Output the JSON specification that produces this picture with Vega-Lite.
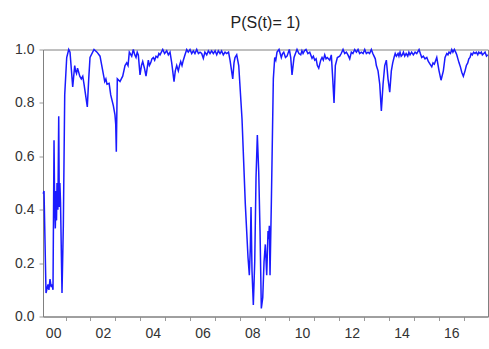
{
  "$schema": "https://vega.github.io/schema/vega-lite/v6.json",
  "width": 445,
  "height": 267,
  "autosize": "none",
  "padding": {"left": 43, "top": 49.5, "right": 1, "bottom": 32.5},
  "background": "white",
  "title": {"text": "P(S(t)= 1)", "font": "Liberation Sans", "fontSize": 16, "fontWeight": "normal", "color": "#222222", "anchor": "middle", "offset": 12},
  "config": {
    "view": {"stroke": "#808080", "strokeWidth": 1},
    "axis": {"grid": false, "domainColor": "#808080", "tickColor": "#9a9a9a", "tickSize": 4, "labelFont": "Liberation Sans", "labelFontSize": 14, "labelColor": "#333333", "labelFlush": false, "labelOverlap": false, "title": null}
  },
  "data": {"values": [
    {"t": 2000.10, "p": 0.46},
    {"t": 2000.133, "p": 0.47},
    {"t": 2000.213, "p": 0.088},
    {"t": 2000.293, "p": 0.12},
    {"t": 2000.33, "p": 0.10},
    {"t": 2000.374, "p": 0.14},
    {"t": 2000.42, "p": 0.11},
    {"t": 2000.454, "p": 0.12},
    {"t": 2000.494, "p": 0.10},
    {"t": 2000.535, "p": 0.66},
    {"t": 2000.56, "p": 0.42},
    {"t": 2000.587, "p": 0.33},
    {"t": 2000.615, "p": 0.47},
    {"t": 2000.635, "p": 0.36},
    {"t": 2000.655, "p": 0.50},
    {"t": 2000.69, "p": 0.40},
    {"t": 2000.724, "p": 0.75},
    {"t": 2000.748, "p": 0.41},
    {"t": 2000.77, "p": 0.50},
    {"t": 2000.796, "p": 0.43},
    {"t": 2000.856, "p": 0.088},
    {"t": 2000.909, "p": 0.34},
    {"t": 2000.965, "p": 0.83},
    {"t": 2001.045, "p": 0.97},
    {"t": 2001.126, "p": 1.0},
    {"t": 2001.178, "p": 0.99},
    {"t": 2001.286, "p": 0.86},
    {"t": 2001.367, "p": 0.94},
    {"t": 2001.40, "p": 0.92},
    {"t": 2001.439, "p": 0.91},
    {"t": 2001.48, "p": 0.93},
    {"t": 2001.512, "p": 0.92},
    {"t": 2001.57, "p": 0.90},
    {"t": 2001.632, "p": 0.89},
    {"t": 2001.69, "p": 0.90},
    {"t": 2001.741, "p": 0.87},
    {"t": 2001.873, "p": 0.785},
    {"t": 2001.930, "p": 0.89},
    {"t": 2001.982, "p": 0.97},
    {"t": 2002.143, "p": 1.0},
    {"t": 2002.263, "p": 0.99},
    {"t": 2002.384, "p": 0.975},
    {"t": 2002.573, "p": 0.88},
    {"t": 2002.62, "p": 0.89},
    {"t": 2002.665, "p": 0.87},
    {"t": 2002.750, "p": 0.873},
    {"t": 2002.814, "p": 0.83},
    {"t": 2002.919, "p": 0.79},
    {"t": 2002.985, "p": 0.755},
    {"t": 2003.015, "p": 0.72},
    {"t": 2003.039, "p": 0.617},
    {"t": 2003.079, "p": 0.89},
    {"t": 2003.188, "p": 0.88},
    {"t": 2003.24, "p": 0.89},
    {"t": 2003.296, "p": 0.90},
    {"t": 2003.389, "p": 0.94},
    {"t": 2003.457, "p": 0.95},
    {"t": 2003.51, "p": 0.94},
    {"t": 2003.562, "p": 0.99},
    {"t": 2003.658, "p": 0.975},
    {"t": 2003.723, "p": 1.0},
    {"t": 2003.78, "p": 0.98},
    {"t": 2003.831, "p": 0.97},
    {"t": 2003.88, "p": 0.99},
    {"t": 2003.924, "p": 0.98},
    {"t": 2003.992, "p": 0.905},
    {"t": 2004.05, "p": 0.94},
    {"t": 2004.100, "p": 0.955},
    {"t": 2004.17, "p": 0.93},
    {"t": 2004.233, "p": 0.90},
    {"t": 2004.326, "p": 0.96},
    {"t": 2004.37, "p": 0.94},
    {"t": 2004.422, "p": 0.95},
    {"t": 2004.47, "p": 0.965},
    {"t": 2004.527, "p": 0.97},
    {"t": 2004.58, "p": 0.96},
    {"t": 2004.635, "p": 0.975},
    {"t": 2004.70, "p": 0.97},
    {"t": 2004.75, "p": 0.985},
    {"t": 2004.796, "p": 0.98},
    {"t": 2004.85, "p": 0.99},
    {"t": 2004.905, "p": 1.0},
    {"t": 2004.98, "p": 0.985},
    {"t": 2005.065, "p": 0.995},
    {"t": 2005.13, "p": 0.98},
    {"t": 2005.198, "p": 0.99},
    {"t": 2005.266, "p": 0.95},
    {"t": 2005.359, "p": 0.88},
    {"t": 2005.41, "p": 0.92},
    {"t": 2005.467, "p": 0.94},
    {"t": 2005.532, "p": 0.92},
    {"t": 2005.58, "p": 0.94},
    {"t": 2005.628, "p": 0.955},
    {"t": 2005.68, "p": 0.94},
    {"t": 2005.733, "p": 0.96},
    {"t": 2005.80, "p": 0.98},
    {"t": 2005.869, "p": 1.0},
    {"t": 2005.93, "p": 0.99},
    {"t": 2006.002, "p": 1.0},
    {"t": 2006.07, "p": 0.985},
    {"t": 2006.135, "p": 0.995},
    {"t": 2006.20, "p": 0.985},
    {"t": 2006.271, "p": 1.0},
    {"t": 2006.34, "p": 0.985},
    {"t": 2006.404, "p": 0.99},
    {"t": 2006.47, "p": 0.985},
    {"t": 2006.537, "p": 0.967},
    {"t": 2006.60, "p": 0.99},
    {"t": 2006.673, "p": 0.98},
    {"t": 2006.74, "p": 0.995},
    {"t": 2006.806, "p": 0.985},
    {"t": 2006.87, "p": 0.995},
    {"t": 2006.939, "p": 0.985},
    {"t": 2007.01, "p": 0.995},
    {"t": 2007.075, "p": 0.98},
    {"t": 2007.14, "p": 0.995},
    {"t": 2007.208, "p": 0.985},
    {"t": 2007.27, "p": 0.995},
    {"t": 2007.341, "p": 0.98},
    {"t": 2007.41, "p": 0.99},
    {"t": 2007.477, "p": 0.985},
    {"t": 2007.55, "p": 0.99},
    {"t": 2007.610, "p": 0.96},
    {"t": 2007.719, "p": 0.89},
    {"t": 2007.77, "p": 0.95},
    {"t": 2007.811, "p": 0.97},
    {"t": 2007.879, "p": 0.98},
    {"t": 2007.960, "p": 0.94},
    {"t": 2008.092, "p": 0.74},
    {"t": 2008.225, "p": 0.42},
    {"t": 2008.334, "p": 0.22},
    {"t": 2008.386, "p": 0.155},
    {"t": 2008.426, "p": 0.256},
    {"t": 2008.454, "p": 0.41},
    {"t": 2008.494, "p": 0.17},
    {"t": 2008.547, "p": 0.043},
    {"t": 2008.603, "p": 0.205},
    {"t": 2008.655, "p": 0.52},
    {"t": 2008.708, "p": 0.68},
    {"t": 2008.764, "p": 0.54},
    {"t": 2008.816, "p": 0.32},
    {"t": 2008.868, "p": 0.03},
    {"t": 2008.925, "p": 0.07},
    {"t": 2008.977, "p": 0.205},
    {"t": 2009.029, "p": 0.27},
    {"t": 2009.085, "p": 0.155},
    {"t": 2009.138, "p": 0.32},
    {"t": 2009.165, "p": 0.29},
    {"t": 2009.190, "p": 0.34},
    {"t": 2009.218, "p": 0.155},
    {"t": 2009.270, "p": 0.42},
    {"t": 2009.351, "p": 0.89},
    {"t": 2009.407, "p": 0.97},
    {"t": 2009.45, "p": 0.96},
    {"t": 2009.499, "p": 0.99},
    {"t": 2009.580, "p": 1.0},
    {"t": 2009.672, "p": 0.97},
    {"t": 2009.72, "p": 0.985},
    {"t": 2009.769, "p": 0.99},
    {"t": 2009.84, "p": 0.97},
    {"t": 2009.902, "p": 0.975},
    {"t": 2009.994, "p": 1.0},
    {"t": 2010.05, "p": 0.97},
    {"t": 2010.102, "p": 0.905},
    {"t": 2010.183, "p": 0.97},
    {"t": 2010.24, "p": 0.985},
    {"t": 2010.303, "p": 1.0},
    {"t": 2010.38, "p": 0.985},
    {"t": 2010.452, "p": 0.98},
    {"t": 2010.50, "p": 0.995},
    {"t": 2010.545, "p": 0.985},
    {"t": 2010.60, "p": 0.995},
    {"t": 2010.665, "p": 1.0},
    {"t": 2010.74, "p": 0.985},
    {"t": 2010.814, "p": 0.99},
    {"t": 2010.907, "p": 0.967},
    {"t": 2010.96, "p": 0.975},
    {"t": 2011.015, "p": 0.96},
    {"t": 2011.07, "p": 0.965},
    {"t": 2011.120, "p": 0.94},
    {"t": 2011.176, "p": 0.93},
    {"t": 2011.256, "p": 0.96},
    {"t": 2011.308, "p": 0.97},
    {"t": 2011.36, "p": 0.96},
    {"t": 2011.417, "p": 0.98},
    {"t": 2011.47, "p": 0.965},
    {"t": 2011.521, "p": 0.97},
    {"t": 2011.618, "p": 0.96},
    {"t": 2011.682, "p": 0.98},
    {"t": 2011.739, "p": 0.89},
    {"t": 2011.791, "p": 0.80},
    {"t": 2011.843, "p": 0.94},
    {"t": 2011.924, "p": 0.97},
    {"t": 2012.020, "p": 0.975},
    {"t": 2012.08, "p": 0.985},
    {"t": 2012.153, "p": 1.0},
    {"t": 2012.22, "p": 0.985},
    {"t": 2012.286, "p": 0.99},
    {"t": 2012.35, "p": 0.98},
    {"t": 2012.422, "p": 0.965},
    {"t": 2012.487, "p": 0.99},
    {"t": 2012.55, "p": 0.985},
    {"t": 2012.623, "p": 1.0},
    {"t": 2012.69, "p": 0.99},
    {"t": 2012.756, "p": 1.0},
    {"t": 2012.82, "p": 0.985},
    {"t": 2012.889, "p": 0.99},
    {"t": 2012.96, "p": 0.985},
    {"t": 2013.025, "p": 1.0},
    {"t": 2013.09, "p": 0.985},
    {"t": 2013.158, "p": 0.99},
    {"t": 2013.22, "p": 0.985},
    {"t": 2013.290, "p": 1.0},
    {"t": 2013.35, "p": 0.985},
    {"t": 2013.399, "p": 0.975},
    {"t": 2013.45, "p": 0.965},
    {"t": 2013.492, "p": 0.94},
    {"t": 2013.560, "p": 0.92},
    {"t": 2013.628, "p": 0.87},
    {"t": 2013.693, "p": 0.77},
    {"t": 2013.761, "p": 0.87},
    {"t": 2013.829, "p": 0.94},
    {"t": 2013.894, "p": 0.96},
    {"t": 2013.961, "p": 0.89},
    {"t": 2014.030, "p": 0.84},
    {"t": 2014.094, "p": 0.92},
    {"t": 2014.15, "p": 0.95},
    {"t": 2014.203, "p": 0.97},
    {"t": 2014.25, "p": 0.985},
    {"t": 2014.296, "p": 0.975},
    {"t": 2014.364, "p": 0.985},
    {"t": 2014.40, "p": 0.975},
    {"t": 2014.444, "p": 0.99},
    {"t": 2014.49, "p": 0.975},
    {"t": 2014.537, "p": 0.98},
    {"t": 2014.58, "p": 0.99},
    {"t": 2014.633, "p": 0.975},
    {"t": 2014.69, "p": 0.985},
    {"t": 2014.754, "p": 0.975},
    {"t": 2014.80, "p": 0.99},
    {"t": 2014.846, "p": 0.98},
    {"t": 2014.91, "p": 0.99},
    {"t": 2014.979, "p": 0.98},
    {"t": 2015.05, "p": 0.99},
    {"t": 2015.115, "p": 0.985},
    {"t": 2015.208, "p": 1.0},
    {"t": 2015.26, "p": 0.985},
    {"t": 2015.316, "p": 0.97},
    {"t": 2015.38, "p": 0.975},
    {"t": 2015.449, "p": 0.965},
    {"t": 2015.52, "p": 0.97},
    {"t": 2015.582, "p": 0.955},
    {"t": 2015.65, "p": 0.945},
    {"t": 2015.719, "p": 0.935},
    {"t": 2015.77, "p": 0.95},
    {"t": 2015.823, "p": 0.945},
    {"t": 2015.920, "p": 0.97},
    {"t": 2016.012, "p": 0.92},
    {"t": 2016.092, "p": 0.885},
    {"t": 2016.185, "p": 0.92},
    {"t": 2016.253, "p": 0.97},
    {"t": 2016.322, "p": 0.985},
    {"t": 2016.37, "p": 0.98},
    {"t": 2016.414, "p": 0.99},
    {"t": 2016.47, "p": 0.985},
    {"t": 2016.523, "p": 1.0},
    {"t": 2016.57, "p": 0.99},
    {"t": 2016.627, "p": 1.0},
    {"t": 2016.68, "p": 0.99},
    {"t": 2016.724, "p": 0.98},
    {"t": 2016.77, "p": 0.965},
    {"t": 2016.816, "p": 0.95},
    {"t": 2016.87, "p": 0.935},
    {"t": 2016.925, "p": 0.915},
    {"t": 2016.989, "p": 0.90},
    {"t": 2017.057, "p": 0.92},
    {"t": 2017.11, "p": 0.94},
    {"t": 2017.166, "p": 0.95},
    {"t": 2017.21, "p": 0.965},
    {"t": 2017.258, "p": 0.97},
    {"t": 2017.30, "p": 0.985},
    {"t": 2017.351, "p": 0.98},
    {"t": 2017.40, "p": 0.99},
    {"t": 2017.459, "p": 0.985},
    {"t": 2017.51, "p": 0.99},
    {"t": 2017.568, "p": 0.98},
    {"t": 2017.61, "p": 0.99},
    {"t": 2017.661, "p": 0.985},
    {"t": 2017.71, "p": 0.99},
    {"t": 2017.753, "p": 0.98},
    {"t": 2017.81, "p": 0.985},
    {"t": 2017.862, "p": 0.99},
    {"t": 2017.92, "p": 0.975},
    {"t": 2017.970, "p": 0.98}
  ]},
  "mark": {"type": "line", "color": "#1a1aff", "strokeWidth": 1.5},
  "encoding": {
    "x": {
      "field": "t", "type": "quantitative",
      "scale": {"domain": [2000.092, 2017.98], "nice": false, "zero": false},
      "axis": {
        "values": [2000.5, 2001, 2002, 2002.5, 2003, 2004, 2004.5, 2005, 2006, 2006.5, 2007, 2008, 2008.5, 2009, 2010, 2010.5, 2011, 2012, 2012.5, 2013, 2014, 2014.5, 2015, 2016, 2016.5, 2017],
        "labelExpr": "datum.value % 1 != 0 ? substring(toString(floor(datum.value)), 2) : ''",
        "tickColor": {"condition": {"test": "datum.value % 1 == 0", "value": "#9a9a9a"}, "value": "transparent"},
        "labelPadding": 6
      }
    },
    "y": {
      "field": "p", "type": "quantitative",
      "scale": {"domain": [0, 1], "nice": false},
      "axis": {"values": [0, 0.2, 0.4, 0.6, 0.8, 1.0], "format": ".1f", "labelPadding": 5}
    }
  }
}
